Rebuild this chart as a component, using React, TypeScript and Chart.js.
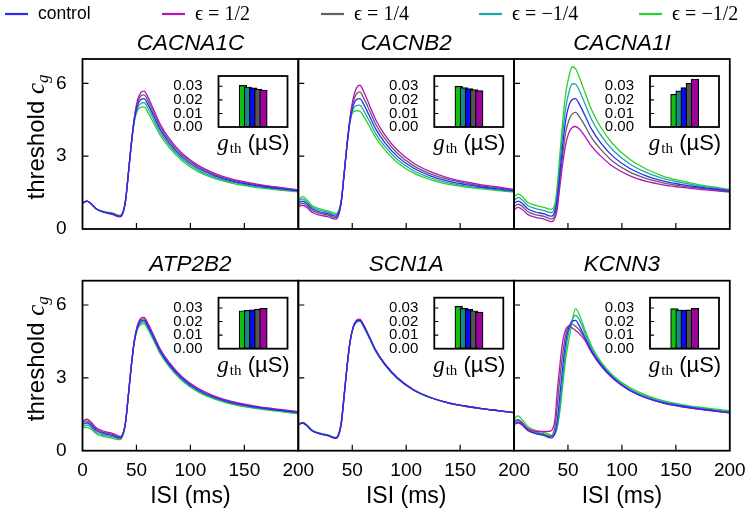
import React, { useEffect, useRef } from "react";
import { Chart, registerables } from "chart.js";

Chart.register(...registerables);

const W = 750;
const H = 514;
const SANS = "'Liberation Sans', Arial, Helvetica, sans-serif";
const SERIF = "'Liberation Serif', 'DejaVu Serif', 'Times New Roman', serif";

// ---------------- data ----------------
const ISI = [0, 2, 4, 8, 13, 20, 28, 33, 35, 38, 40, 42, 45, 48, 51, 54, 57, 61, 66, 72, 80, 92, 107, 123, 138, 154, 170, 185, 200];
const X_TICKS = [0, 50, 100, 150, 200];
const Y_TICKS = [0, 3, 6];
const BAR_TICKS = [0, 0.01, 0.02, 0.03];

const SERIES_LABELS = ["control", "ϵ = 1/2", "ϵ = 1/4", "ϵ = −1/4", "ϵ = −1/2"];
const SERIES_COLORS = ["#2a2af5", "#b515b5", "#606060", "#1ea5a5", "#2ad22a"];

// inset bars: order of bars left to right
const BAR_GROUPS = ["ϵ = −1/2", "ϵ = −1/4", "control", "ϵ = 1/4", "ϵ = 1/2"];
const BAR_COLORS = ["#12c012", "#128a8a", "#0a0af5", "#555555", "#9c049c"];

const GENES = ["CACNA1C", "CACNB2", "CACNA1I", "ATP2B2", "SCN1A", "KCNN3"];

// control curve (same in every panel)
const CONTROL = [1.06, 1.12, 1.15, 1.04, 0.82, 0.70, 0.62, 0.54, 0.53, 0.75, 1.20, 2.05, 3.40, 4.50, 5.10, 5.33, 5.37, 5.10, 4.65, 4.10, 3.57, 2.98, 2.50, 2.18, 1.98, 1.84, 1.73, 1.65, 1.57];

// CACNA1C
const CACNA1C_HALF = [1.06, 1.12, 1.15, 1.04, 0.82, 0.68, 0.59, 0.51, 0.50, 0.73, 1.20, 2.05, 3.42, 4.58, 5.30, 5.62, 5.68, 5.40, 4.91, 4.32, 3.75, 3.13, 2.63, 2.28, 2.06, 1.91, 1.79, 1.70, 1.61];
const CACNA1C_QUARTER = [1.06, 1.12, 1.15, 1.04, 0.82, 0.69, 0.61, 0.53, 0.52, 0.74, 1.20, 2.05, 3.41, 4.54, 5.20, 5.48, 5.52, 5.25, 4.78, 4.21, 3.66, 3.06, 2.57, 2.23, 2.02, 1.88, 1.76, 1.68, 1.59];
const CACNA1C_NEG_QUARTER = [1.06, 1.12, 1.15, 1.04, 0.82, 0.71, 0.64, 0.56, 0.55, 0.76, 1.20, 2.05, 3.39, 4.46, 4.99, 5.17, 5.20, 4.94, 4.51, 3.98, 3.47, 2.90, 2.43, 2.12, 1.94, 1.80, 1.70, 1.62, 1.55];
const CACNA1C_NEG_HALF = [1.06, 1.12, 1.15, 1.04, 0.82, 0.72, 0.65, 0.57, 0.56, 0.77, 1.20, 2.05, 3.38, 4.41, 4.88, 5.01, 5.03, 4.77, 4.36, 3.86, 3.37, 2.82, 2.36, 2.07, 1.89, 1.76, 1.66, 1.59, 1.53];
const CACNA1C_GTH = [0.0307, 0.0295, 0.0288, 0.0280, 0.0273];

// CACNB2
const CACNB2_HALF = [0.91, 0.95, 0.97, 0.88, 0.68, 0.57, 0.50, 0.42, 0.41, 0.67, 1.17, 2.05, 3.42, 4.60, 5.40, 5.81, 5.92, 5.62, 5.10, 4.48, 3.89, 3.24, 2.71, 2.35, 2.12, 1.95, 1.82, 1.73, 1.63];
const CACNB2_QUARTER = [0.98, 1.03, 1.06, 0.96, 0.75, 0.64, 0.56, 0.48, 0.47, 0.71, 1.19, 2.05, 3.41, 4.55, 5.25, 5.57, 5.65, 5.36, 4.88, 4.29, 3.73, 3.11, 2.60, 2.26, 2.05, 1.90, 1.77, 1.69, 1.60];
const CACNB2_NEG_QUARTER = [1.14, 1.21, 1.24, 1.12, 0.89, 0.77, 0.68, 0.60, 0.59, 0.79, 1.21, 2.05, 3.39, 4.45, 4.95, 5.09, 5.10, 4.84, 4.43, 3.91, 3.41, 2.85, 2.40, 2.10, 1.91, 1.78, 1.69, 1.61, 1.54];
const CACNB2_NEG_HALF = [1.21, 1.29, 1.33, 1.20, 0.96, 0.83, 0.74, 0.66, 0.65, 0.83, 1.23, 2.05, 3.38, 4.41, 4.82, 4.87, 4.85, 4.61, 4.22, 3.74, 3.27, 2.73, 2.30, 2.02, 1.85, 1.74, 1.65, 1.58, 1.52];
const CACNB2_GTH = [0.0300, 0.0290, 0.0283, 0.0275, 0.0268];

// CACNA1I
const CACNA1I_HALF = [0.75, 0.86, 0.89, 0.79, 0.59, 0.48, 0.41, 0.32, 0.30, 0.45, 0.80, 1.55, 2.65, 3.50, 3.98, 4.18, 4.22, 4.10, 3.80, 3.40, 3.02, 2.56, 2.20, 1.96, 1.82, 1.72, 1.64, 1.58, 1.52];
const CACNA1I_QUARTER = [0.91, 0.99, 1.02, 0.92, 0.71, 0.59, 0.52, 0.43, 0.42, 0.60, 1.00, 1.80, 3.00, 4.00, 4.50, 4.74, 4.80, 4.60, 4.23, 3.75, 3.30, 2.77, 2.35, 2.07, 1.90, 1.78, 1.69, 1.62, 1.55];
const CACNA1I_NEG_QUARTER = [1.18, 1.25, 1.30, 1.18, 0.96, 0.84, 0.76, 0.68, 0.68, 0.90, 1.45, 2.40, 3.85, 5.00, 5.65, 5.98, 5.97, 5.65, 5.13, 4.50, 3.90, 3.23, 2.69, 2.32, 2.08, 1.92, 1.79, 1.69, 1.60];
const CACNA1I_NEG_HALF = [1.30, 1.39, 1.45, 1.32, 1.09, 0.97, 0.89, 0.82, 0.82, 1.05, 1.75, 2.80, 4.35, 5.60, 6.30, 6.68, 6.60, 6.20, 5.60, 4.90, 4.22, 3.48, 2.88, 2.46, 2.18, 1.99, 1.84, 1.73, 1.63];
const CACNA1I_GTH = [0.0241, 0.0266, 0.0290, 0.0322, 0.0354];

// ATP2B2
const ATP2B2_HALF = [1.19, 1.27, 1.30, 1.17, 0.93, 0.80, 0.71, 0.61, 0.59, 0.77, 1.20, 2.05, 3.40, 4.53, 5.18, 5.45, 5.49, 5.21, 4.75, 4.19, 3.66, 3.06, 2.57, 2.24, 2.03, 1.89, 1.77, 1.69, 1.61];
const ATP2B2_QUARTER = [1.13, 1.20, 1.23, 1.11, 0.88, 0.75, 0.67, 0.58, 0.56, 0.76, 1.20, 2.05, 3.40, 4.52, 5.14, 5.39, 5.43, 5.16, 4.70, 4.15, 3.62, 3.02, 2.54, 2.21, 2.01, 1.87, 1.75, 1.67, 1.59];
const ATP2B2_NEG_QUARTER = [0.98, 1.03, 1.06, 0.96, 0.75, 0.64, 0.57, 0.50, 0.49, 0.74, 1.20, 2.05, 3.40, 4.48, 5.05, 5.26, 5.30, 5.03, 4.59, 4.05, 3.52, 2.93, 2.46, 2.14, 1.95, 1.81, 1.71, 1.63, 1.55];
const ATP2B2_NEG_HALF = [0.92, 0.95, 0.97, 0.88, 0.69, 0.58, 0.51, 0.46, 0.46, 0.73, 1.20, 2.05, 3.40, 4.46, 5.00, 5.19, 5.22, 4.96, 4.53, 3.99, 3.47, 2.89, 2.42, 2.11, 1.92, 1.78, 1.68, 1.60, 1.52];
const ATP2B2_GTH = [0.0280, 0.0283, 0.0287, 0.0292, 0.0297];

// SCN1A
const SCN1A_HALF = [1.05, 1.11, 1.14, 1.03, 0.81, 0.69, 0.61, 0.52, 0.51, 0.72, 1.15, 2.00, 3.38, 4.50, 5.12, 5.37, 5.42, 5.15, 4.69, 4.13, 3.59, 3.00, 2.51, 2.19, 1.99, 1.84, 1.73, 1.65, 1.57];
const SCN1A_QUARTER = [1.05, 1.11, 1.14, 1.03, 0.81, 0.69, 0.61, 0.53, 0.52, 0.73, 1.17, 2.02, 3.39, 4.50, 5.11, 5.35, 5.39, 5.12, 4.67, 4.11, 3.58, 2.99, 2.50, 2.18, 1.98, 1.84, 1.73, 1.65, 1.57];
const SCN1A_NEG_QUARTER = [1.07, 1.13, 1.16, 1.05, 0.83, 0.71, 0.63, 0.55, 0.54, 0.77, 1.22, 2.07, 3.40, 4.49, 5.08, 5.31, 5.35, 5.08, 4.63, 4.09, 3.56, 2.97, 2.49, 2.18, 1.98, 1.84, 1.73, 1.65, 1.57];
const SCN1A_NEG_HALF = [1.08, 1.14, 1.17, 1.06, 0.84, 0.72, 0.64, 0.56, 0.55, 0.79, 1.25, 2.10, 3.41, 4.48, 5.06, 5.29, 5.33, 5.06, 4.61, 4.07, 3.55, 2.96, 2.48, 2.17, 1.97, 1.83, 1.72, 1.64, 1.56];
const SCN1A_GTH = [0.0312, 0.0297, 0.0290, 0.0280, 0.0270];

// KCNN3
const KCNN3_HALF = [1.17, 1.23, 1.25, 1.12, 0.90, 0.80, 0.79, 0.80, 0.84, 1.30, 2.40, 3.30, 4.45, 5.00, 5.13, 5.05, 4.95, 4.80, 4.52, 4.04, 3.53, 2.96, 2.48, 2.16, 1.96, 1.82, 1.71, 1.63, 1.56];
const KCNN3_QUARTER = [1.10, 1.16, 1.19, 1.07, 0.85, 0.73, 0.66, 0.60, 0.62, 1.00, 1.80, 2.75, 3.95, 4.80, 5.15, 5.21, 5.12, 4.95, 4.60, 4.07, 3.55, 2.97, 2.49, 2.17, 1.97, 1.83, 1.72, 1.64, 1.56];
const KCNN3_NEG_QUARTER = [1.18, 1.27, 1.29, 1.14, 0.90, 0.77, 0.68, 0.60, 0.57, 0.68, 0.95, 1.60, 2.95, 4.15, 4.95, 5.40, 5.57, 5.35, 4.82, 4.20, 3.63, 3.03, 2.55, 2.23, 2.02, 1.88, 1.77, 1.68, 1.60];
const KCNN3_NEG_HALF = [1.28, 1.40, 1.43, 1.25, 0.99, 0.84, 0.74, 0.66, 0.62, 0.70, 1.00, 1.45, 2.60, 3.80, 4.60, 5.35, 5.85, 5.55, 4.95, 4.30, 3.70, 3.09, 2.61, 2.28, 2.06, 1.91, 1.80, 1.72, 1.65];
const KCNN3_GTH = [0.0295, 0.0285, 0.0285, 0.0287, 0.0297];

const PANELS = [
  { curves: [CONTROL, CACNA1C_HALF, CACNA1C_QUARTER, CACNA1C_NEG_QUARTER, CACNA1C_NEG_HALF], gth: CACNA1C_GTH },
  { curves: [CONTROL, CACNB2_HALF, CACNB2_QUARTER, CACNB2_NEG_QUARTER, CACNB2_NEG_HALF], gth: CACNB2_GTH },
  { curves: [CONTROL, CACNA1I_HALF, CACNA1I_QUARTER, CACNA1I_NEG_QUARTER, CACNA1I_NEG_HALF], gth: CACNA1I_GTH },
  { curves: [CONTROL, ATP2B2_HALF, ATP2B2_QUARTER, ATP2B2_NEG_QUARTER, ATP2B2_NEG_HALF], gth: ATP2B2_GTH },
  { curves: [CONTROL, SCN1A_HALF, SCN1A_QUARTER, SCN1A_NEG_QUARTER, SCN1A_NEG_HALF], gth: SCN1A_GTH },
  { curves: [CONTROL, KCNN3_HALF, KCNN3_QUARTER, KCNN3_NEG_QUARTER, KCNN3_NEG_HALF], gth: KCNN3_GTH },
];

// ---------------- layout ----------------
const COL_LEFT = [82.5, 298.3, 514];
const COL_W = 215.8;
const ROW_TOP = [59, 280.7];
const ROW_H = 170;
const INSET = { dx: 136, dy: 17, w: 69, h: 51 };
const LEGEND_X = [5, 162, 321, 479, 639];
const LEGEND_Y = 14;
const Y_AXIS_W = 50;
const X_AXIS_H = 40;
const INSET_AXIS_W = 45;

function panelDecor(idx: number) {
  const col = idx % 3;
  const row = Math.floor(idx / 3);
  return {
    id: "panelDecor",
    afterDraw(chart: any) {
      const { ctx, chartArea: a } = chart;
      const xs = chart.scales.x;
      const ys = chart.scales.y;
      ctx.save();
      ctx.strokeStyle = "#000";
      ctx.lineWidth = 1.2;
      ctx.beginPath();
      for (const v of X_TICKS) {
        if (v <= xs.min || v >= xs.max) continue;
        const px = xs.getPixelForValue(v);
        ctx.moveTo(px, a.bottom);
        ctx.lineTo(px, a.bottom - 6);
      }
      for (const v of Y_TICKS) {
        if (v <= ys.min || v >= ys.max) continue;
        const py = ys.getPixelForValue(v);
        ctx.moveTo(a.left, py);
        ctx.lineTo(a.left + 6, py);
      }
      ctx.stroke();
      ctx.lineWidth = 1.8;
      ctx.strokeRect(a.left, a.top, a.right - a.left, a.bottom - a.top);

      ctx.fillStyle = "#000";
      ctx.textAlign = "center";
      ctx.textBaseline = "alphabetic";
      ctx.font = `italic 22.5px ${SANS}`;
      ctx.fillText(GENES[idx], (a.left + a.right) / 2, a.top - 9.5);

      if (row === 1) {
        ctx.font = `23px ${SANS}`;
        ctx.fillText("ISI (ms)", (a.left + a.right) / 2, 503);
      }

      if (col === 0) {
        ctx.save();
        ctx.translate(44, (a.top + a.bottom) / 2 - 7);
        ctx.rotate(-Math.PI / 2);
        const f1 = `24px ${SANS}`;
        const f2 = `italic 25px ${SERIF}`;
        const f3 = `italic 17px ${SERIF}`;
        const t1 = "threshold ";
        const t2 = "c";
        const t3 = "g";
        ctx.font = f1;
        const w1 = ctx.measureText(t1).width;
        ctx.font = f2;
        const w2 = ctx.measureText(t2).width;
        ctx.font = f3;
        const w3 = ctx.measureText(t3).width;
        let x = -(w1 + w2 + w3) / 2;
        ctx.textAlign = "left";
        ctx.font = f1;
        ctx.fillText(t1, x, 0);
        x += w1;
        ctx.font = f2;
        ctx.fillText(t2, x, 0);
        x += w2;
        ctx.font = f3;
        ctx.fillText(t3, x, 4);
        ctx.restore();
      }

      if (idx === 0) {
        const ds = chart.data.datasets;
        ctx.textAlign = "left";
        ctx.textBaseline = "middle";
        ds.forEach((d: any, k: number) => {
          const lx = LEGEND_X[k];
          ctx.strokeStyle = d.borderColor;
          ctx.lineWidth = 2.2;
          ctx.beginPath();
          ctx.moveTo(lx, LEGEND_Y);
          ctx.lineTo(lx + 23, LEGEND_Y);
          ctx.stroke();
          ctx.fillStyle = "#000";
          ctx.font = k === 0 ? `17.5px ${SANS}` : `20px ${SERIF}`;
          ctx.fillText(d.label, lx + 33, LEGEND_Y + (k === 0 ? 0 : 1));
        });
      }
      ctx.restore();
    },
  };
}

function PanelChart({ idx }: { idx: number }) {
  const ref = useRef<HTMLCanvasElement | null>(null);
  useEffect(() => {
    const p = PANELS[idx];
    const col = idx % 3;
    const row = Math.floor(idx / 3);
    const left = COL_LEFT[col];
    const top = ROW_TOP[row];
    const right = left + COL_W;
    const bottom = top + ROW_H;
    const datasets = p.curves.map((vals, k) => ({
      label: SERIES_LABELS[k],
      data: ISI.map((x, i) => ({ x, y: vals[i] })),
      borderColor: SERIES_COLORS[k],
      backgroundColor: SERIES_COLORS[k],
      borderWidth: 1.3,
      pointRadius: 0,
      fill: false,
      tension: 0.4,
      cubicInterpolationMode: "monotone" as const,
    }));
    const chart = new Chart(ref.current as HTMLCanvasElement, {
      type: "line",
      data: { datasets },
      options: {
        responsive: false,
        animation: false,
        events: [],
        layout: {
          padding: {
            left: left - Y_AXIS_W,
            top,
            right: W - right,
            bottom: H - bottom - X_AXIS_H,
          },
        },
        plugins: { legend: { display: false }, tooltip: { enabled: false }, title: { display: false } },
        scales: {
          x: {
            type: "linear",
            min: 0,
            max: 200,
            grid: { display: false },
            border: { display: false },
            afterBuildTicks: (s: any) => {
              s.ticks = X_TICKS.map((v) => ({ value: v }));
            },
            afterFit: (s: any) => {
              s.height = X_AXIS_H;
            },
            ticks: {
              display: row === 1,
              padding: 1,
              autoSkip: false,
              maxRotation: 0,
              color: "#000",
              font: { family: SANS, size: 19 },
              callback: (v: any) => (col > 0 && Number(v) === 0 ? "" : String(v)),
            },
          },
          y: {
            type: "linear",
            min: 0,
            max: 7,
            grid: { display: false },
            border: { display: false },
            afterBuildTicks: (s: any) => {
              s.ticks = Y_TICKS.map((v) => ({ value: v }));
            },
            afterFit: (s: any) => {
              s.width = Y_AXIS_W;
            },
            ticks: {
              display: col === 0,
              padding: 8,
              autoSkip: false,
              color: "#000",
              font: { family: SANS, size: 19 },
              callback: (v: any) => String(v),
            },
          },
        },
      },
      plugins: [panelDecor(idx)],
    } as any);
    return () => chart.destroy();
  }, [idx]);
  return (
    <canvas
      ref={ref}
      width={W}
      height={H}
      style={{ position: "absolute", left: 0, top: 0, width: W, height: H, pointerEvents: "none" }}
    />
  );
}

const insetDecor = {
  id: "insetDecor",
  beforeDraw(chart: any) {
    const { ctx, chartArea: a } = chart;
    ctx.save();
    ctx.fillStyle = "#fff";
    ctx.fillRect(a.left, a.top, a.right - a.left, a.bottom - a.top);
    ctx.restore();
  },
  afterDraw(chart: any) {
    const { ctx, chartArea: a } = chart;
    const ys = chart.scales.y;
    ctx.save();
    ctx.strokeStyle = "#000";
    ctx.lineWidth = 1.1;
    ctx.beginPath();
    for (const v of BAR_TICKS) {
      if (v <= ys.min || v >= ys.max) continue;
      const py = ys.getPixelForValue(v);
      ctx.moveTo(a.left, py);
      ctx.lineTo(a.left + 4, py);
    }
    ctx.stroke();
    ctx.lineWidth = 1.8;
    ctx.strokeRect(a.left, a.top, a.right - a.left, a.bottom - a.top);

    // g_th (µS)
    const cx = (a.left + a.right) / 2;
    const by = a.bottom + 23;
    const f1 = `italic 23px ${SERIF}`;
    const f2 = `15px ${SERIF}`;
    const f3 = `22px ${SANS}`;
    const t1 = "g";
    const t2 = "th";
    const t3 = " (µS)";
    ctx.font = f1;
    const w1 = ctx.measureText(t1).width;
    ctx.font = f2;
    const w2 = ctx.measureText(t2).width;
    ctx.font = f3;
    const w3 = ctx.measureText(t3).width;
    let x = cx - (w1 + w2 + w3) / 2;
    ctx.fillStyle = "#000";
    ctx.textAlign = "left";
    ctx.textBaseline = "alphabetic";
    ctx.font = f1;
    ctx.fillText(t1, x, by);
    x += w1 + 1;
    ctx.font = f2;
    ctx.fillText(t2, x, by + 3);
    x += w2;
    ctx.font = f3;
    ctx.fillText(t3, x, by);
    ctx.restore();
  },
};

function InsetChart({ idx }: { idx: number }) {
  const ref = useRef<HTMLCanvasElement | null>(null);
  useEffect(() => {
    const p = PANELS[idx];
    const col = idx % 3;
    const row = Math.floor(idx / 3);
    const left = COL_LEFT[col] + INSET.dx;
    const top = ROW_TOP[row] + INSET.dy;
    const right = left + INSET.w;
    const bottom = top + INSET.h;
    const chart = new Chart(ref.current as HTMLCanvasElement, {
      type: "bar",
      data: {
        datasets: [
          {
            label: "g_th",
            data: BAR_GROUPS.map((_, j) => ({ x: j, y: p.gth[j] })),
            backgroundColor: BAR_COLORS,
            borderColor: "#000",
            borderWidth: 1.2,
            borderSkipped: false,
            barThickness: 7.6,
          },
        ],
      },
      options: {
        responsive: false,
        animation: false,
        events: [],
        layout: { padding: { left: left - INSET_AXIS_W, top, right: W - right, bottom: H - bottom } },
        plugins: { legend: { display: false }, tooltip: { enabled: false }, title: { display: false } },
        scales: {
          x: {
            type: "linear",
            min: -1.4,
            max: 5.33,
            grid: { display: false },
            border: { display: false },
            ticks: { display: false },
            afterFit: (s: any) => {
              s.height = 0;
            },
          },
          y: {
            type: "linear",
            min: 0,
            max: 0.0376,
            grid: { display: false },
            border: { display: false },
            afterBuildTicks: (s: any) => {
              s.ticks = BAR_TICKS.map((v) => ({ value: v }));
            },
            afterFit: (s: any) => {
              s.width = INSET_AXIS_W;
            },
            ticks: {
              padding: 8,
              autoSkip: false,
              color: "#000",
              font: { family: SANS, size: 15, lineHeight: 1 },
              callback: (v: any) => Number(v).toFixed(2),
            },
          },
        },
      },
      plugins: [insetDecor],
    } as any);
    return () => chart.destroy();
  }, [idx]);
  return (
    <canvas
      ref={ref}
      width={W}
      height={H}
      style={{ position: "absolute", left: 0, top: 0, width: W, height: H, pointerEvents: "none" }}
    />
  );
}

export default function App() {
  return (
    <div
      style={{
        position: "fixed",
        left: 0,
        top: 0,
        width: W,
        height: H,
        background: "#fff",
        overflow: "hidden",
      }}
    >
      {GENES.map((g, i) => (
        <PanelChart key={g} idx={i} />
      ))}
      {GENES.map((g, i) => (
        <InsetChart key={g + "-inset"} idx={i} />
      ))}
    </div>
  );
}
